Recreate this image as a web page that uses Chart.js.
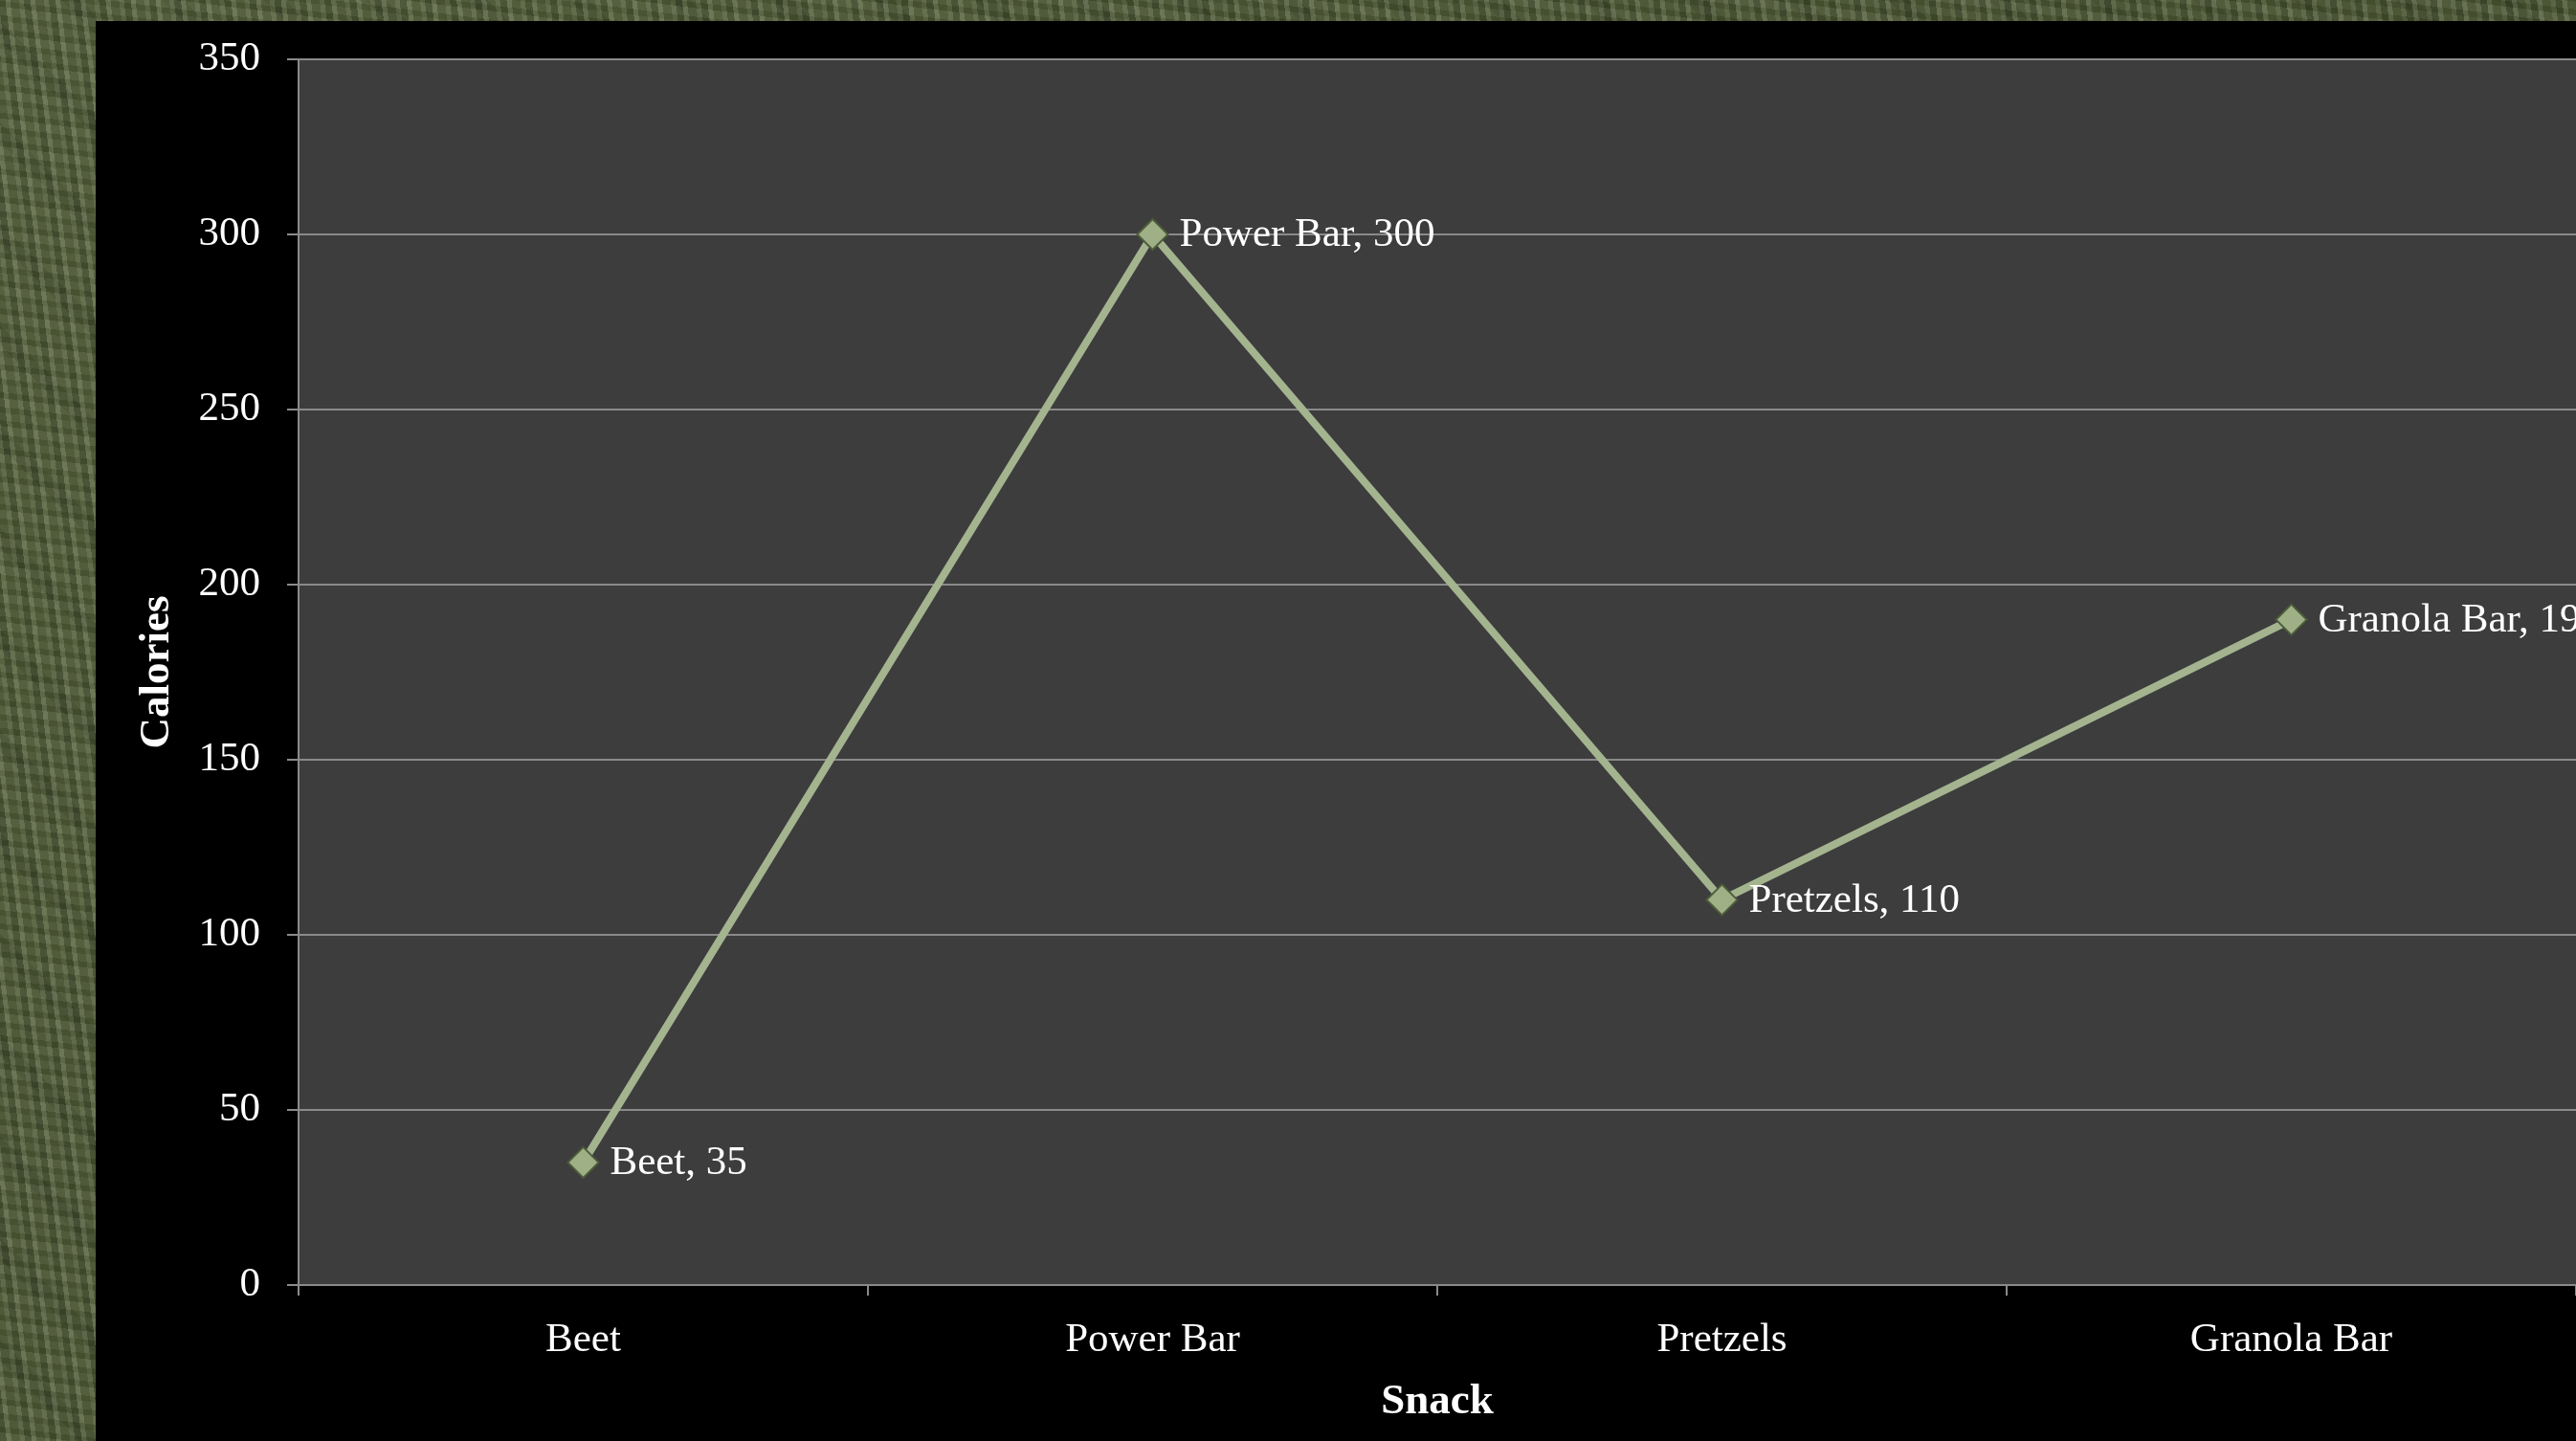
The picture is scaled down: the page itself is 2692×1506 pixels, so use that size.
<!DOCTYPE html>
<html lang="en">
<head>
    <meta charset="UTF-8">
    <title>Snack Calories</title>
    <style>
      html, body { margin: 0; padding: 0; }
      body {
        width: 2692px; height: 1506px; overflow: hidden;
        background-color: #56613f;
        background-image:
          repeating-linear-gradient(83deg, rgba(30,40,15,0.30) 0 7px, rgba(150,160,125,0.22) 7px 12px, rgba(55,65,30,0.28) 12px 21px, rgba(120,130,95,0.18) 21px 26px),
          repeating-linear-gradient(7deg, rgba(120,130,100,0.25) 0 9px, rgba(40,50,20,0.28) 9px 15px, rgba(100,110,80,0.18) 15px 23px, rgba(35,45,15,0.2) 23px 29px),
          repeating-linear-gradient(45deg, rgba(0,0,0,0.0) 0 60px, rgba(0,0,0,0.12) 60px 75px),
          linear-gradient(135deg, rgba(255,255,255,0.05), rgba(0,0,0,0.15));
      }
      #panel {
        position: absolute; left: 100px; top: 22px;
        width: 2610px; height: 1484px; background: #000;
      }
    </style>
</head>
<body>
    <div id="panel">
        <canvas id="myChart"></canvas>
    </div>

    <script src="https://cdn.jsdelivr.net/npm/chart.js"></script>

    <script>
      const snacks = ['Beet', 'Power Bar', 'Pretzels', 'Granola Bar'];
      const calories = [35, 300, 110, 190];
      const yTicks = [0, 50, 100, 150, 200, 250, 300, 350];

      const serif = '"Liberation Serif", "DejaVu Serif", serif';
      const gridGrey = '#8a8a8a';

      // dark grey plot background
      const plotBg = {
        id: 'plotBg',
        beforeDraw(chart) {
          const { ctx, chartArea: a } = chart;
          ctx.save();
          ctx.fillStyle = '#3d3d3d';
          ctx.fillRect(a.left, a.top, a.right - a.left, a.bottom - a.top);
          ctx.restore();
        }
      };

      // "Name, value" labels to the right of each point
      const pointLabels = {
        id: 'pointLabels',
        afterDatasetsDraw(chart) {
          const { ctx } = chart;
          const meta = chart.getDatasetMeta(0);
          ctx.save();
          ctx.font = '43px ' + serif;
          ctx.fillStyle = '#ffffff';
          ctx.textAlign = 'left';
          ctx.textBaseline = 'middle';
          meta.data.forEach((pt, i) => {
            ctx.fillText(snacks[i] + ', ' + calories[i], pt.x + 28, pt.y + 1);
          });
          ctx.restore();
        }
      };

      const ctx = document.getElementById('myChart');

      new Chart(ctx, {
        type: 'line',
        data: {
          labels: snacks,
          datasets: [{
            label: 'Calories',
            data: calories,
            borderColor: '#a3b48f',
            borderWidth: 8,
            tension: 0,
            pointStyle: 'rectRot',
            pointRadius: 16,
            pointHoverRadius: 16,
            pointBackgroundColor: '#9fb087',
            pointBorderColor: '#4d5c3a',
            pointBorderWidth: 2
          }]
        },
        options: {
          responsive: true,
          maintainAspectRatio: false,
          animation: false,
          layout: { padding: { top: 40, right: 0, bottom: 0, left: 0 } },
          plugins: {
            legend: { display: false },
            tooltip: { enabled: false }
          },
          scales: {
            x: {
              offset: true,
              grid: {
                offset: true,
                drawOnChartArea: false,
                drawTicks: true,
                tickLength: 11,
                color: gridGrey,
                lineWidth: 2
              },
              border: { color: gridGrey, width: 2 },
              ticks: {
                color: '#ffffff',
                font: { family: serif, size: 43 },
                padding: 21
              },
              title: {
                display: true,
                text: 'Snack',
                color: '#ffffff',
                font: { family: serif, size: 45, weight: 'bold' },
                padding: { top: 0, bottom: 14 }
              },
              afterFit(scale) { scale.height = 163; }
            },
            y: {
              min: 0,
              max: 350,
              afterBuildTicks(scale) { scale.ticks = yTicks.map(v => ({ value: v })); },
              grid: {
                color: gridGrey,
                lineWidth: 2,
                drawTicks: true,
                tickLength: 12
              },
              border: { color: gridGrey, width: 2 },
              ticks: {
                color: '#ffffff',
                font: { family: serif, size: 43 },
                padding: 28
              },
              title: {
                display: true,
                text: 'Calories',
                color: '#ffffff',
                font: { family: serif, size: 45, weight: 'bold' },
                padding: { top: 37, bottom: 0 }
              },
              afterFit(scale) {
                scale.width = 212;
                scale.paddingTop = 20;
                scale.paddingBottom = 20;
              }
            }
          }
        },
        plugins: [plotBg, pointLabels]
      });
    </script>
</body>
</html>
